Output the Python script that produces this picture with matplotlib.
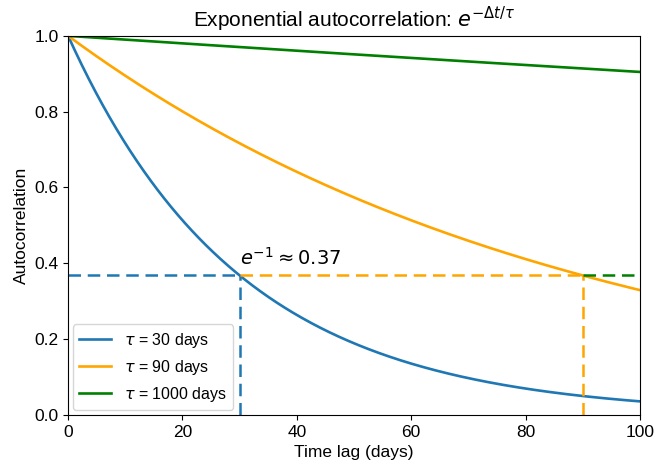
import numpy as np
import matplotlib
matplotlib.use("Agg")
import matplotlib.pyplot as plt

plt.rcParams['font.family'] = ['Liberation Sans', 'DejaVu Sans']
plt.rcParams['mathtext.fontset'] = 'dejavusans'

taus = [30, 90, 1000]
labels = [r"$\tau$ = 30 days", r"$\tau$ = 90 days", r"$\tau$ = 1000 days"]
colors = ["#1f77b4", "orange", "green"]
xmax = 100
e_inv = np.exp(-1)

lags = np.linspace(0, xmax, 500)

fig, ax = plt.subplots(figsize=(6.55, 4.72), dpi=100)
for tau, lab, c in zip(taus, labels, colors):
    ax.plot(lags, np.exp(-lags / tau), color=c, lw=1.9, label=lab)

# dashed guides at 1/e
prev = 0
for tau, c in zip(taus, colors):
    end = min(tau, xmax)
    ax.plot([prev, end], [e_inv, e_inv], color=c, ls=(0, (5, 2.7)), lw=1.8)
    if tau <= xmax:
        ax.plot([tau, tau], [0, e_inv], color=c, ls=(0, (5, 2.7)), lw=1.8)
    prev = end

ax.text(30, e_inv + 0.028, r"$e^{-1} \approx 0.37$", fontsize=14)

ax.set_xlim(0, xmax)
ax.set_ylim(0, 1.0)
ax.set_xlabel("Time lag (days)", fontsize=12.5)
ax.set_ylabel("Autocorrelation", fontsize=12.5)
ax.set_title(r"Exponential autocorrelation: $e^{-\Delta t/\tau}$", fontsize=15)
ax.tick_params(labelsize=12.5)
ax.legend(loc="lower left", fontsize=11.5, borderaxespad=0.3)

fig.subplots_adjust(left=0.104, right=0.977, top=0.924, bottom=0.121)
fig.savefig("out.png", dpi=100)
